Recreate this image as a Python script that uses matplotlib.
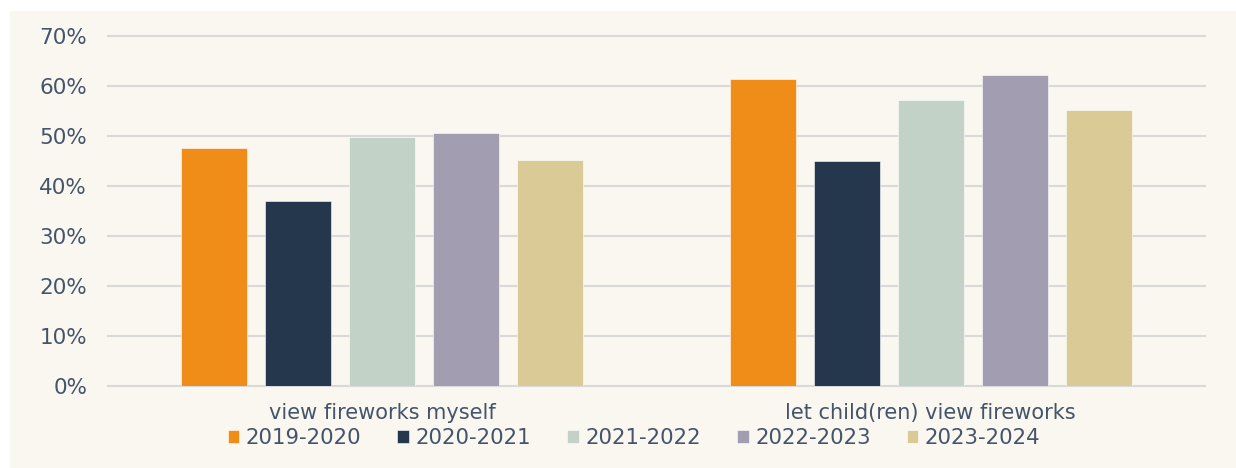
import numpy as np
import matplotlib.pyplot as plt
from matplotlib.patches import Rectangle
from matplotlib.ticker import PercentFormatter

categories = ["view fireworks myself", "let child(ren) view fireworks"]
seasons = ["2019-2020", "2020-2021", "2021-2022", "2022-2023", "2023-2024"]
values = {
    "2019-2020": [0.476, 0.615],
    "2020-2021": [0.370, 0.451],
    "2021-2022": [0.499, 0.573],
    "2022-2023": [0.506, 0.623],
    "2023-2024": [0.453, 0.553],
}
colors = ["#F08D18", "#25374D", "#C2D2C6", "#A29DB0", "#DACB96"]
text_color = "#44546A"

W, H = 1236, 468
fig = plt.figure(figsize=(W / 100, H / 100), dpi=100)
fig.patches.append(Rectangle((10 / W, 0), 1, 1 - 11 / H, transform=fig.transFigure,
                             facecolor="#FAF7F0", edgecolor="none", zorder=-10))

ax = fig.add_axes([108 / W, (H - 386) / H, (1205 - 108) / W, 350 / H])
ax.set_facecolor("none")

x = np.arange(len(categories))
width = 0.12
step = 0.153
for i, s in enumerate(seasons):
    off = (i - 2) * step
    ax.bar(x + off, values[s], width, color=colors[i], label=s,
           edgecolor="white", linewidth=0.4, zorder=3)

ax.set_xlim(-0.5, 1.5)
ax.set_ylim(0, 0.7)
ax.set_yticks(np.arange(0, 0.71, 0.1))
ax.yaxis.set_major_formatter(PercentFormatter(1.0, decimals=0))
ax.grid(axis="y", color="#D9D9D9", linewidth=1.5, zorder=0)
for g in ax.get_ygridlines():
    g.set_clip_on(False)
for sp in ax.spines.values():
    sp.set_visible(False)
ax.tick_params(axis="both", length=0, colors=text_color)
ax.tick_params(axis="y", labelsize=15.5, pad=15)
ax.set_xticks(x)
ax.set_xticklabels(categories, fontsize=15)
ax.tick_params(axis="x", pad=12)

leg = fig.legend(loc="center", bbox_to_anchor=(634 / W, (H - 438) / H), ncol=5,
                 frameon=False, handlelength=0.55, handleheight=0.55,
                 handletextpad=0.3, columnspacing=1.7,
                 prop={"size": 15.3})
for t in leg.get_texts():
    t.set_color(text_color)

fig.savefig("out.png", dpi=100)
